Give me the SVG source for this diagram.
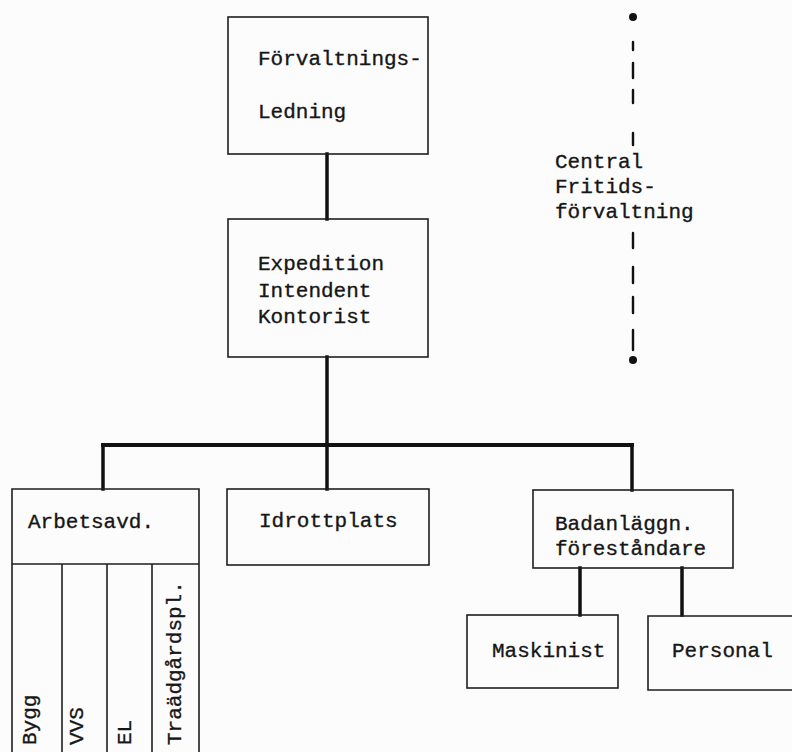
<svg xmlns="http://www.w3.org/2000/svg" width="792" height="752" viewBox="0 0 792 752">
<style>
.box{fill:none;stroke:#1e1e1e;stroke-width:1.6}
.con{stroke:#111;stroke-width:3.5;fill:none;stroke-linecap:square}
.dash{stroke:#111;stroke-width:2.4;stroke-linecap:round}
text{font-family:"Liberation Mono","DejaVu Sans Mono",monospace;font-size:21px;fill:#161616;stroke:#161616;stroke-width:0.35px}
</style>
<rect width="792" height="752" fill="#fcfcfc"/>
<g id="connectors">
<line class="con" x1="327" y1="154" x2="327" y2="219"/>
<line class="con" x1="327" y1="357" x2="327" y2="445"/>
<line class="con" x1="103" y1="445" x2="632" y2="445" style="stroke-width:4"/>
<line class="con" x1="103" y1="445" x2="103" y2="489"/>
<line class="con" x1="327" y1="445" x2="327" y2="489"/>
<line class="con" x1="632" y1="445" x2="632" y2="490"/>
<line class="con" x1="580" y1="568" x2="580" y2="615"/>
<line class="con" x1="682" y1="568" x2="682" y2="615"/>
</g>
<g id="central-fritidsforvaltning">
<circle cx="633" cy="17" r="4" fill="#111"/>
<circle cx="633" cy="360" r="4" fill="#111"/>
<line class="dash" x1="633" y1="42" x2="633" y2="50"/>
<line class="dash" x1="633" y1="63" x2="633" y2="78"/>
<line class="dash" x1="633" y1="90" x2="633" y2="103"/>
<line class="dash" x1="633" y1="133" x2="633" y2="145"/>
<line class="dash" x1="633" y1="233" x2="633" y2="248"/>
<line class="dash" x1="633" y1="267" x2="633" y2="283"/>
<line class="dash" x1="633" y1="297" x2="633" y2="313"/>
<line class="dash" x1="633" y1="330" x2="633" y2="350"/>
<text x="555" y="168">Central</text>
<text x="555" y="193">Fritids-</text>
<text x="555" y="218">förvaltning</text>
</g>
<g id="forvaltningsledning">
<rect class="box" x="228" y="17" width="200" height="137"/>
<text x="258" y="65">Förvaltnings-</text>
<text x="258" y="118">Ledning</text>
</g>
<g id="expedition">
<rect class="box" x="228" y="219" width="200" height="138"/>
<text x="258" y="270">Expedition</text>
<text x="258" y="297">Intendent</text>
<text x="258" y="323">Kontorist</text>
</g>
<g id="arbetsavd">
<path class="box" d="M12 753 V489 H199 V753 M12 564 H199 M62 564 V753 M107 564 V753 M152 564 V753"/>
<text x="28" y="528">Arbetsavd.</text>
<text transform="translate(36 745) rotate(-90)">Bygg</text>
<text transform="translate(83 745) rotate(-90)">VVS</text>
<text transform="translate(131 745) rotate(-90)">EL</text>
<text transform="translate(181 745) rotate(-90)">Traädgårdspl.</text>
</g>
<g id="idrottplats">
<rect class="box" x="227" y="489" width="202" height="76"/>
<text x="259" y="527">Idrottplats</text>
</g>
<g id="badanlaggn">
<rect class="box" x="533" y="490" width="200" height="78"/>
<text x="555" y="530">Badanläggn.</text>
<text x="555" y="555">föreståndare</text>
</g>
<g id="maskinist">
<rect class="box" x="467" y="615" width="151" height="73"/>
<text x="492" y="657">Maskinist</text>
</g>
<g id="personal">
<path class="box" d="M793 616 H648 V690 H793"/>
<text x="672" y="657">Personal</text>
</g>
</svg>
